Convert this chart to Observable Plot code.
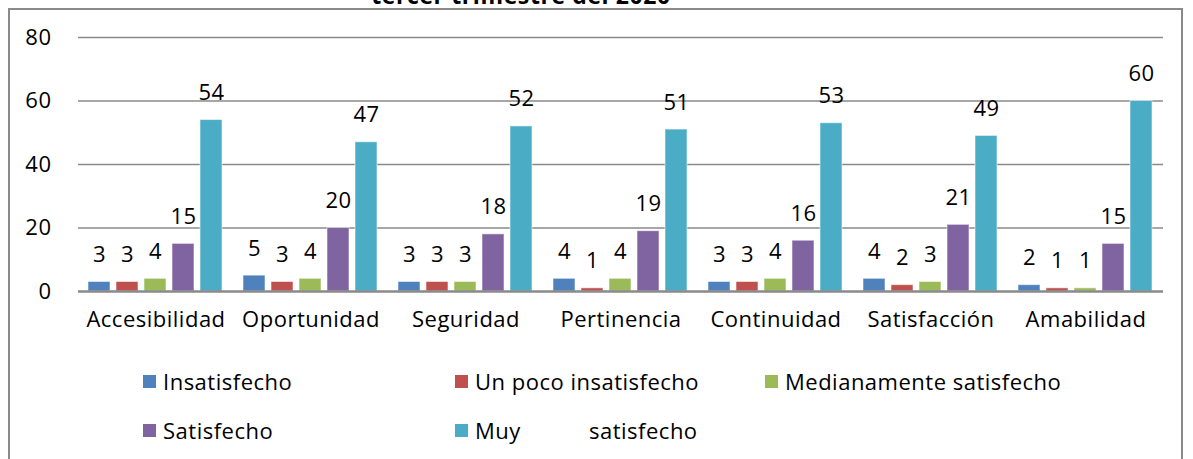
<!DOCTYPE html>
<html>
<head>
<meta charset="utf-8">
<script src="https://cdn.jsdelivr.net/npm/d3@7"></script>
<script src="https://cdn.jsdelivr.net/npm/@observablehq/plot@0.6"></script>
<style>
  html, body { margin: 0; padding: 0; background: #fff; overflow: hidden; }
  #wrap { position: relative; width: 1193px; height: 459px; font-family: "Open Sans", sans-serif; }
  #frame { position: absolute; left: 8px; top: 8px; width: 1175px; height: 470px; border: 2px solid #8a8a8a; box-sizing: border-box; }
  #title { position: absolute; left: 0; width: 1042px; top: -21px; text-align: center; font-weight: bold; font-size: 23px; letter-spacing: 0.6px; color: #000; white-space: nowrap; }
  #chart { position: absolute; left: 0; top: 0; }
  #chart svg text { letter-spacing: 0.5px; }
  .leg { position: absolute; display: flex; align-items: center; font-size: 22px; letter-spacing: 0.5px; color: #000; white-space: pre; }
  .sw { width: 13px; height: 13px; margin-right: 7px; flex: none; }
</style>
</head>
<body>
<div id="wrap">
  <div id="title"></div>
  <div id="frame"></div>
  <div id="chart"></div>
</div>
<script>
const titleText = "tercer trimestre del 2020";
const categories = ["Accesibilidad", "Oportunidad", "Seguridad", "Pertinencia", "Continuidad", "Satisfacción", "Amabilidad"];
const series = ["Insatisfecho", "Un poco insatisfecho", "Medianamente satisfecho", "Satisfecho", "Muy satisfecho"];
const legendLabels = ["Insatisfecho", "Un poco insatisfecho", "Medianamente satisfecho", "Satisfecho", "Muy|satisfecho"];
const colors = ["#4F81BD", "#C0504D", "#9BBB59", "#8064A2", "#4BACC6"];
const insatisfecho = [3, 5, 3, 4, 3, 4, 2];
const unPocoInsatisfecho = [3, 3, 3, 1, 3, 2, 1];
const medianamenteSatisfecho = [4, 4, 3, 4, 4, 3, 1];
const satisfecho = [15, 20, 18, 19, 16, 21, 15];
const muySatisfecho = [54, 47, 52, 51, 53, 49, 60];
const yTicks = [0, 20, 40, 60, 80];

const seriesValues = [insatisfecho, unPocoInsatisfecho, medianamenteSatisfecho, satisfecho, muySatisfecho];
const data = [];
categories.forEach((c, i) => {
  series.forEach((s, j) => data.push({cat: c, serie: s, value: seriesValues[j][i]}));
});

document.getElementById("title").textContent = titleText;

const chart = Plot.plot({
  width: 1193,
  height: 345,
  marginLeft: 77,
  marginRight: 30,
  marginTop: 37,
  marginBottom: 54,
  style: {fontSize: "22px", fontFamily: "'Open Sans', sans-serif", color: "#000", background: "transparent", overflow: "visible"},
  fx: {domain: categories, padding: 0, label: null, tickSize: 0, tickPadding: 20},
  x: {domain: series, paddingInner: 0.2, paddingOuter: 0.28, axis: null},
  y: {domain: [0, 80], ticks: yTicks, tickSize: 0, tickPadding: 27, label: null, tickFormat: d => String(d)},
  color: {domain: series, range: colors},
  marks: [
    Plot.ruleY(yTicks.filter(d => d > 0), {stroke: "#8a8a8a", strokeWidth: 1.5}),
    Plot.barY(data, {fx: "cat", x: "serie", y: "value", fill: "serie", stroke: "#ffffff", strokeOpacity: 0.55, strokeWidth: 1}),
    Plot.ruleY([0], {stroke: "#8a8a8a", strokeWidth: 2.5}),
    Plot.text(data, {fx: "cat", x: "serie", y: "value", text: d => String(d.value), dy: -27, fontSize: 22, fill: "#000"})
  ]
});
document.getElementById("chart").appendChild(chart);

const legPos = [[143, 381], [455, 381], [765, 381], [143, 430], [455, 430]];
const wrap = document.getElementById("wrap");
legendLabels.forEach((lab, i) => {
  const d = document.createElement("div");
  d.className = "leg";
  d.style.left = legPos[i][0] + "px";
  d.style.top = (legPos[i][1] - 15) + "px";
  d.style.height = "30px";
  const sw = document.createElement("span");
  sw.className = "sw";
  sw.style.background = colors[i];
  d.appendChild(sw);
  const parts = lab.split("|");
  parts.forEach((p, k) => {
    const t = document.createElement("span");
    t.textContent = p;
    if (k < parts.length - 1) { t.style.display = "inline-block"; t.style.width = "114px"; }
    d.appendChild(t);
  });
  wrap.appendChild(d);
});
</script>
</body>
</html>
